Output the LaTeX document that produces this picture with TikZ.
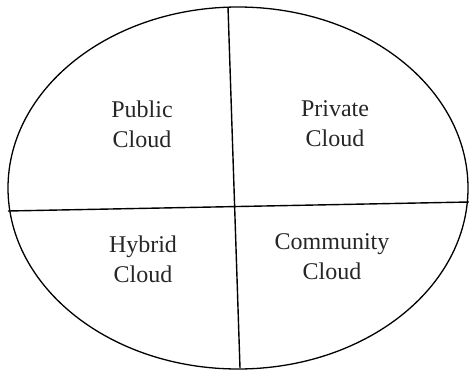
\documentclass[tikz,border=0pt]{standalone}
\usepackage{fontspec}
\setmainfont{Liberation Serif}
\tikzset{cloudlabel/.style={align=center, font=\fontsize{24}{30}\selectfont, text=black!85}}

\begin{document}
\begin{tikzpicture}[x=1pt, y=-1pt]
		%%%%% START %%%%%
		\useasboundingbox (0, 0) rectangle (469, 370);
		
		\draw[line width=1.3pt] (238, 188) ellipse (230 and 181);
		
		\coordinate (top) at (228, 7);
		\coordinate (bottom) at (240, 368);
		\coordinate (left) at (8, 211);
		\coordinate (right) at (469, 202);
		
		\draw[line width=1.4pt] (top) -- (bottom);
		\draw[line width=1.4pt] (left) -- (right);
		
		\node[cloudlabel] (public) at (142, 124) {Public\\Cloud};
		\node[cloudlabel] (private) at (335, 124) {Private\\Cloud};
		\node[cloudlabel] (hybrid) at (143, 259) {Hybrid\\Cloud};
		\node[cloudlabel] (community) at (332, 257) {Community\\Cloud};
		%%%%% END %%%%%
	\end{tikzpicture}
\end{document}
